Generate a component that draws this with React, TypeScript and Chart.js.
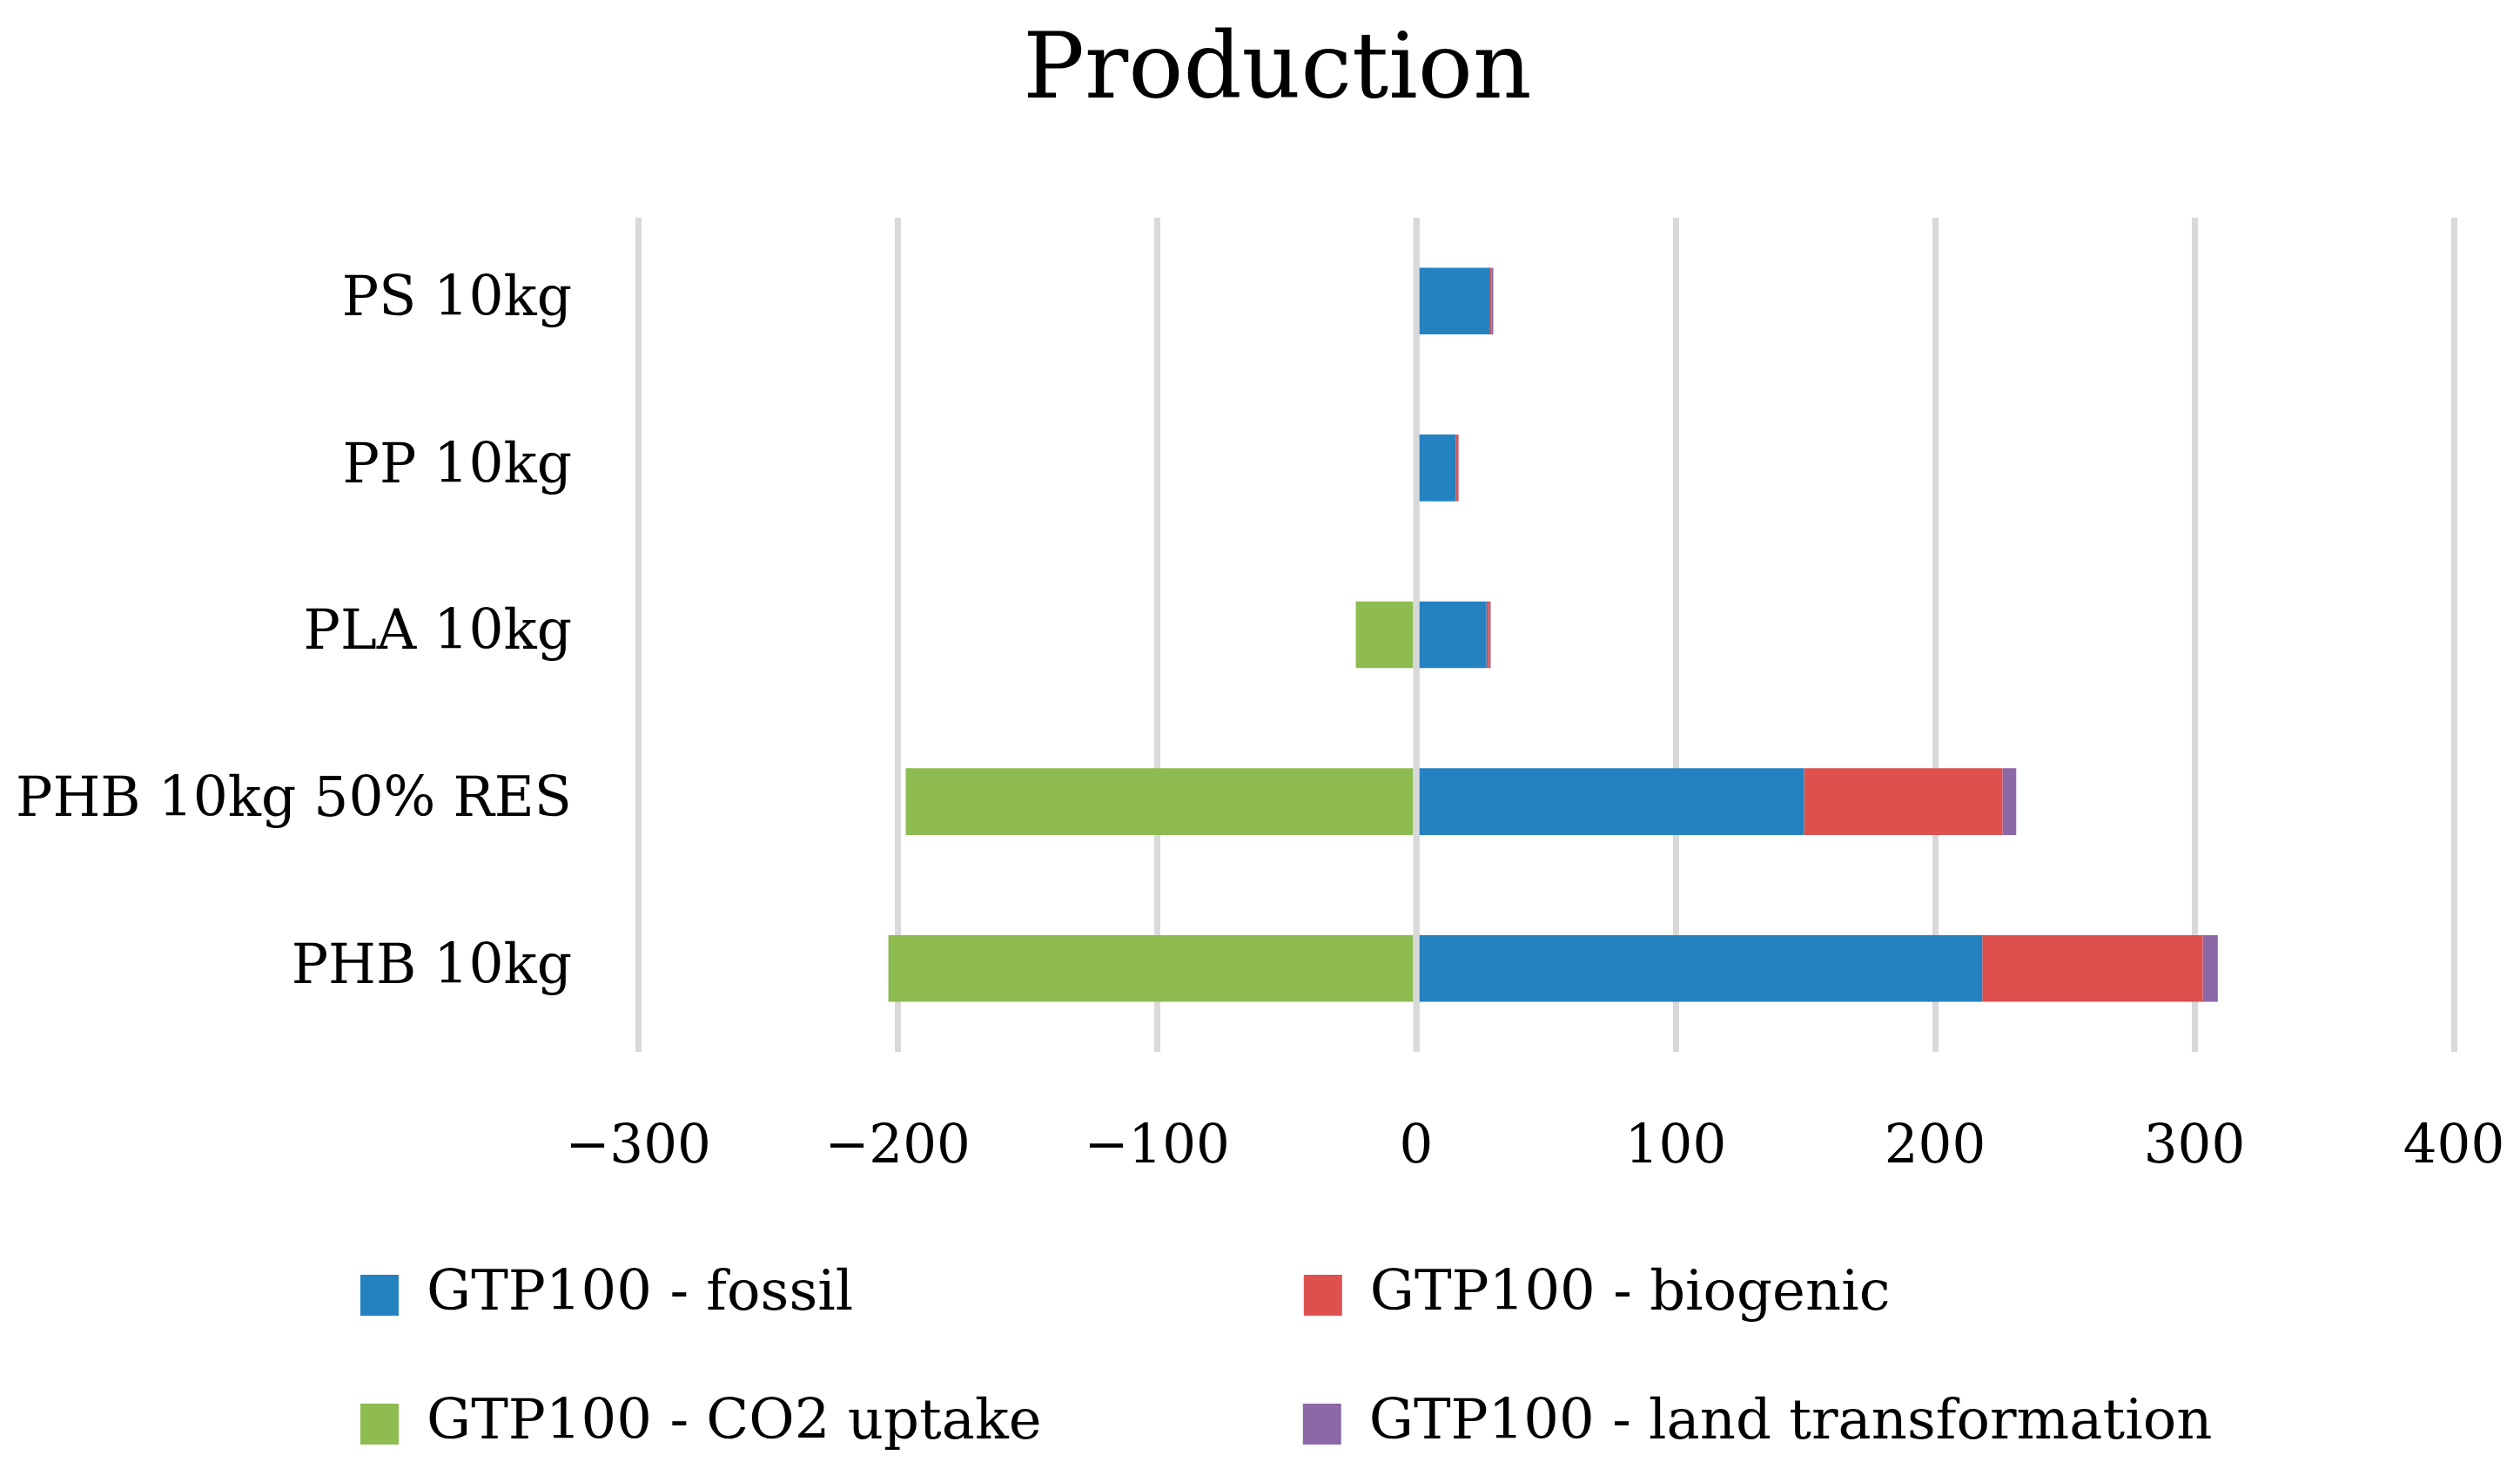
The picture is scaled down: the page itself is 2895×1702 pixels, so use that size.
import React, { useEffect, useRef } from "react";
import { Chart, registerables } from "chart.js";

Chart.register(...registerables);

const title = "Production";
const categories = ["PS 10kg", "PP 10kg", "PLA 10kg", "PHB 10kg 50% RES", "PHB 10kg"];
const seriesNames = [
  "GTP100 - fossil",
  "GTP100 - biogenic",
  "GTP100 - CO2 uptake",
  "GTP100 - land transformation",
];
const fossil = [28.5, 15.3, 27.1, 149.5, 218.2];
const biogenic = [0.6, 1.0, 1.0, 76.5, 85.0];
const co2Uptake = [0, 0, -23.3, -196.8, -203.5];
const landTransformation = [0.6, 0, 0.6, 5.3, 5.8];
const seriesColors = ["#2482C0", "#DE504E", "#8EBC51", "#8C68A6"];
const xMin = -300;
const xMax = 400;
const xStep = 100;

const FAMILY = "'DejaVu Serif'";
const LEGEND_SIZE = 64;

function padTo(text: string, target: number): string {
  const ctx = document.createElement("canvas").getContext("2d")!;
  ctx.font = `${LEGEND_SIZE}px ${FAMILY}`;
  let t = text;
  let guard = 0;
  while (ctx.measureText(t + " ").width <= target && guard < 200) {
    t += " ";
    guard++;
  }
  guard = 0;
  while (ctx.measureText(t).width < target - 2 && guard < 100) {
    const w0 = ctx.measureText(t).width;
    t += "\u200A";
    if (ctx.measureText(t).width <= w0) break;
    guard++;
  }
  return t;
}

const zeroLine = {
  id: "zeroLine",
  afterDatasetsDraw(chart: any) {
    const x = chart.scales.x.getPixelForValue(0);
    const { top, bottom } = chart.chartArea;
    const ctx = chart.ctx;
    ctx.save();
    ctx.strokeStyle = "#D9D9D9";
    ctx.lineWidth = 7;
    ctx.beginPath();
    ctx.moveTo(x, top);
    ctx.lineTo(x, bottom);
    ctx.stroke();
    ctx.restore();
  },
};

const boxShift = {
  id: "boxShift",
  afterLayout(chart: any) {
    if (chart.legend) {
      chart.legend.left += 330;
    }
    if (chart.titleBlock) {
      chart.titleBlock.left += 40;
    }
  },
};

export default function App() {
  const ref = useRef<HTMLCanvasElement>(null);

  useEffect(() => {
    const values = [fossil, biogenic, co2Uptake, landTransformation];
    const chart = new Chart(ref.current!, {
      type: "bar",
      data: {
        labels: categories,
        datasets: seriesNames.map((name, i) => ({
          label: name,
          data: values[i],
          backgroundColor: seriesColors[i],
          borderWidth: 0,
          categoryPercentage: 1,
          barPercentage: 0.4,
        })),
      },
      plugins: [zeroLine, boxShift],
      options: {
        indexAxis: "y",
        animation: false,
        responsive: true,
        maintainAspectRatio: false,
        font: { family: FAMILY },
        layout: { padding: { left: 0, right: 0, top: 0, bottom: 24.5 } },
        scales: {
          x: {
            stacked: true,
            min: xMin,
            max: xMax,
            ticks: {
              stepSize: xStep,
              color: "#000",
              font: { family: FAMILY, size: 61 },
              padding: 75,
              callback: (v: any) => (Number(v) < 0 ? "\u2212" + Math.abs(Number(v)) : String(v)),
            },
            grid: { color: "#D9D9D9", lineWidth: 7, drawTicks: false },
            border: { display: false },
            afterFit: (s: any) => {
              s.height = 163.5;
              s.paddingRight = 76;
            },
          },
          y: {
            stacked: true,
            ticks: {
              color: "#000",
              font: { family: FAMILY, size: 63 },
              padding: 76,
            },
            grid: { display: false, drawTicks: false },
            border: { display: false },
            afterFit: (s: any) => {
              s.width = 733;
            },
          },
        },
        plugins: {
          title: {
            display: true,
            text: title,
            color: "#000",
            font: { family: FAMILY, size: 105, weight: "normal" },
            padding: { top: 22, bottom: 102 },
          },
          legend: {
            position: "bottom",
            align: "start",
            labels: {
              color: "#000",
              font: { family: FAMILY, size: LEGEND_SIZE },
              boxWidth: 44,
              boxHeight: 47,
              padding: 84,
              generateLabels: (c: any) => {
                const items = (Chart.defaults.plugins.legend.labels as any).generateLabels(c);
                return items.map((it: any, i: number) =>
                  i % 2 === 0 ? { ...it, text: padTo(it.text, 923) } : it
                );
              },
            },
          },
          tooltip: { enabled: false },
        },
      } as any,
    });
    return () => chart.destroy();
  }, []);

  return (
    <div
      style={{
        position: "fixed",
        left: 0,
        top: 0,
        width: "100vw",
        height: "100vh",
        background: "#fff",
      }}
    >
      <canvas ref={ref} />
    </div>
  );
}
